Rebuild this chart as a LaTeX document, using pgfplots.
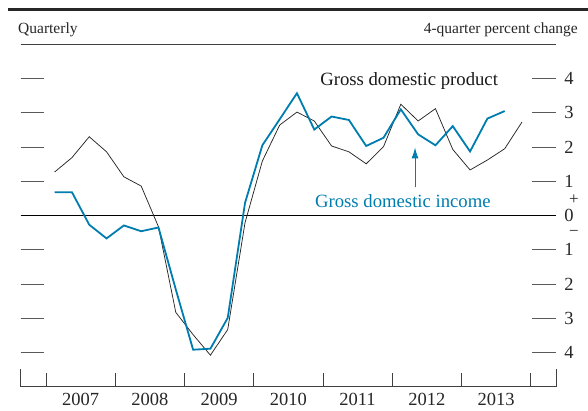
\documentclass[border=0pt]{standalone}
\usepackage{pgfplots}
\pgfplotsset{compat=1.18}
\usepackage{fontspec}
\setmainfont{Liberation Serif}
\usetikzlibrary{arrows.meta}
\definecolor{gdiblue}{RGB}{0,125,175}
\pgfplotstableread{
i v
0 1.27
1 1.69
2 2.30
3 1.86
4 1.13
5 0.86
6 -0.33
7 -2.83
8 -3.48
9 -4.08
10 -3.33
11 -0.21
12 1.59
13 2.64
14 3.02
15 2.76
16 2.03
17 1.86
18 1.51
19 2.01
20 3.25
21 2.76
22 3.12
23 1.93
24 1.33
25 1.62
26 1.95
27 2.73
}\gdp
\pgfplotstableread{
i v
0 0.68
1 0.68
2 -0.27
3 -0.67
4 -0.29
5 -0.46
6 -0.35
7 -2.16
8 -3.92
9 -3.89
10 -2.99
11 0.37
12 2.05
13 2.81
14 3.57
15 2.51
16 2.89
17 2.79
18 2.03
19 2.27
20 3.10
21 2.37
22 2.05
23 2.61
24 1.87
25 2.83
26 3.05
}\gdi
\begin{document}
\begin{tikzpicture}
\useasboundingbox (-20.7bp,-24.3bp) rectangle (567.3bp,386.7bp);
\begin{axis}[
 name=ax,
 x=17.31bp, y=34.24bp,
 xmin=-1.96, xmax=28.96, ymin=-5, ymax=5,
 clip=false,
 separate axis lines,
 x axis line style={draw=black!75, line width=0.8bp},
 y axis line style={draw=none},
 xtick={1.5,5.5,...,25.5},
 xticklabels={2007,2008,2009,2010,2011,2012,2013},
 minor xtick={-0.5,3.5,...,27.5},
 xtick pos=left, xtick align=inside,
 major x tick style={draw=none},
 minor x tick style={draw=black!75, line width=0.8bp},
 minor tick length=13.7bp,
 ytick={-4,...,4},
 yticklabels={4,3,2,1,0,1,2,3,4},
 ytick pos=both, ytick align=inside, yticklabel pos=right,
 major tick length=23.5bp,
 major y tick style={draw=black!65, line width=0.9bp},
 tick label style={font=\fontsize{18.5bp}{20bp}\selectfont, text=black!85},
 /pgf/number format/assume math mode=true,
 xticklabel style={yshift=-3bp},
 yticklabel style={xshift=5bp},
]
\draw[black, line width=0.8bp] (axis cs:-1.96,0) -- (axis cs:28.96,0);
\addplot[black!85, line width=0.75bp] table[x=i,y=v] {\gdp};
\addplot[gdiblue, line width=1.8bp] table[x=i,y=v] {\gdi};
\node[anchor=base, inner sep=0, text=black!90, font=\fontsize{18.7bp}{20bp}\selectfont] at (axis cs:20.48,3.80) {Gross domestic product};
\node[anchor=base, inner sep=0, text=gdiblue, font=\fontsize{18.7bp}{20bp}\selectfont] at (axis cs:20.12,0.225) {Gross domestic income};
\draw[gdiblue, line width=1bp, -{Latex[length=11bp,width=7bp]}] (axis cs:20.82,0.82) -- (axis cs:20.82,1.99);
\node[anchor=base, inner sep=0, text=black!85, font=\fontsize{17bp}{18bp}\selectfont] at (axis cs:30.0,0.33) {+};
\node[anchor=base, inner sep=0, text=black!85, font=\fontsize{17bp}{18bp}\selectfont] at (axis cs:30.0,-0.60) {−};
\end{axis}
\draw[black!75, line width=0.8bp] (ax.south west) -- ++(0,17.7bp);
\draw[black!75, line width=0.8bp] (ax.south east) -- ++(0,17.7bp);
\node[anchor=base west, inner sep=0, text=black!85, font=\fontsize{15.5bp}{17bp}\selectfont] at (-2.7bp,352.7bp) {Quarterly};
\node[anchor=base east, inner sep=0, text=black!85, font=\fontsize{15.5bp}{17bp}\selectfont] at (557.3bp,352.7bp) {4-quarter percent change};
\draw[line width=3bp, black!85] (-12.7bp,376.7bp) -- (567.3bp,376.7bp);
\end{tikzpicture}
\end{document}
